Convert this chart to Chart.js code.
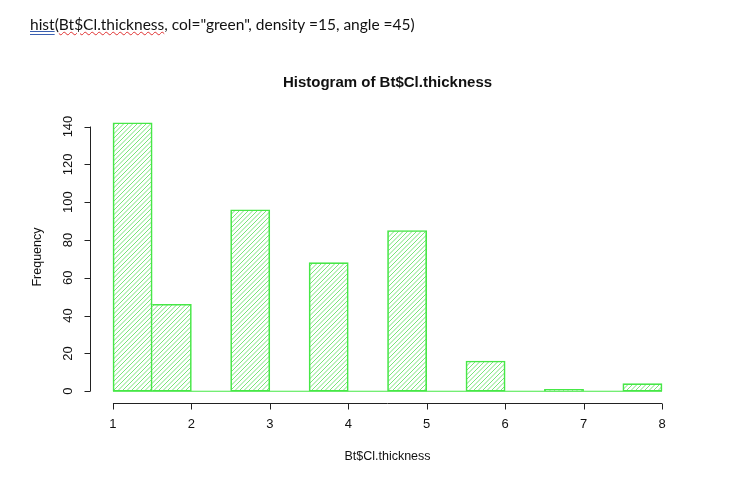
<!DOCTYPE html>
<html>
<head>
<meta charset="utf-8">
<script src="https://cdn.jsdelivr.net/npm/chart.js@4.4.1/dist/chart.umd.min.js"></script>
<style>
  body { margin: 0; background: #fff; }
  #wrap { position: relative; width: 756px; height: 496px; }
  #code {
    position: absolute; left: 30px; top: 15px;
    font-family: Lato, "Open Sans", sans-serif; font-size: 15.5px; color: #111;
    white-space: nowrap;
  }
  #code .fn { text-decoration: underline double #3a5fb0; }
  #code .sq { text-decoration: underline wavy #e03030; text-decoration-thickness: 1px; }
</style>
</head>
<body>
<div id="wrap">
  <div id="code"><span class="fn">hist</span>(<span class="sq">Bt$Cl.thickness</span>, col="green", density =15, angle =45)</div>
  <canvas id="histChart" width="756" height="496"></canvas>
</div>
<script>
// bin midpoints (width 0.5) and counts
const binMids = [1.25, 1.75, 2.25, 2.75, 3.25, 3.75, 4.25, 4.75, 5.25, 5.75, 6.25, 6.75, 7.25, 7.75];
const counts = [142, 46, 0, 96, 0, 68, 0, 85, 0, 16, 0, 1, 0, 4];
const xTicks = [1, 2, 3, 4, 5, 6, 7, 8];
const yTicks = [0, 20, 40, 60, 80, 100, 120, 140];
const mainTitle = 'Histogram of Bt$Cl.thickness';
const xTitle = 'Bt$Cl.thickness';
const yTitle = 'Frequency';

const lineGreen = 'rgb(70, 232, 70)';

function hatch() {
    const s = 9;
    const c = document.createElement('canvas');
    c.width = s; c.height = s;
    const g = c.getContext('2d');
    g.strokeStyle = 'rgba(80, 220, 80, 0.85)';
    g.lineWidth = 0.9;
    for (let k = -s; k <= s * 2; k += s / 2) {
        g.beginPath();
        g.moveTo(k - s, s);
        g.lineTo(k + s, -s);
        g.stroke();
    }
    return g.createPattern(c, 'repeat');
}

const axesPlugin = {
    id: 'rAxes',
    beforeDatasetsDraw(chart) {
        const ctx = chart.ctx;
        const x = chart.scales.x, y = chart.scales.y;
        ctx.save();
        ctx.strokeStyle = lineGreen;
        ctx.lineWidth = 1.2;
        ctx.beginPath();
        ctx.moveTo(x.getPixelForValue(1), y.getPixelForValue(0));
        ctx.lineTo(x.getPixelForValue(8), y.getPixelForValue(0));
        ctx.stroke();
        ctx.restore();
    },
    afterDraw(chart) {
        const ctx = chart.ctx;
        const x = chart.scales.x, y = chart.scales.y;
        const area = chart.chartArea;
        ctx.save();
        ctx.strokeStyle = '#222';
        ctx.lineWidth = 1;
        ctx.fillStyle = '#111';
        ctx.font = '13px "Liberation Sans", Arial, sans-serif';

        // x axis
        const ax = area.bottom + 1.5;
        ctx.beginPath();
        ctx.moveTo(x.getPixelForValue(xTicks[0]), ax);
        ctx.lineTo(x.getPixelForValue(xTicks[xTicks.length - 1]), ax);
        xTicks.forEach(v => {
            const px = Math.round(x.getPixelForValue(v)) + 0.5;
            ctx.moveTo(px, ax);
            ctx.lineTo(px, ax + 6);
        });
        ctx.stroke();
        ctx.textAlign = 'center';
        ctx.textBaseline = 'middle';
        xTicks.forEach(v => ctx.fillText(String(v), x.getPixelForValue(v), 424));
        ctx.font = '12.5px "Liberation Sans", Arial, sans-serif';
        ctx.fillText(xTitle, (area.left + area.right) / 2, 457);

        // y axis
        const ay = area.left - 0.5;
        ctx.beginPath();
        ctx.moveTo(ay, y.getPixelForValue(yTicks[0]));
        ctx.lineTo(ay, y.getPixelForValue(yTicks[yTicks.length - 1]));
        yTicks.forEach(v => {
            const py = Math.round(y.getPixelForValue(v)) + 0.5;
            ctx.moveTo(ay, py);
            ctx.lineTo(ay - 6, py);
        });
        ctx.stroke();
        ctx.font = '13px "Liberation Sans", Arial, sans-serif';
        yTicks.forEach(v => {
            ctx.save();
            ctx.translate(68, y.getPixelForValue(v));
            ctx.rotate(-Math.PI / 2);
            ctx.fillText(String(v), 0, 0);
            ctx.restore();
        });
        ctx.font = '12.5px "Liberation Sans", Arial, sans-serif';
        ctx.save();
        ctx.translate(38, (area.top + area.bottom) / 2);
        ctx.rotate(-Math.PI / 2);
        ctx.fillText(yTitle, 0, 0);
        ctx.restore();

        // main title
        ctx.font = 'bold 15px "Liberation Sans", Arial, sans-serif';
        ctx.fillText(mainTitle, (area.left + area.right) / 2, 83);
        ctx.restore();
    }
};

const ctx = document.getElementById('histChart').getContext('2d');
new Chart(ctx, {
    type: 'bar',
    data: {
        datasets: [{
            label: 'Frequency',
            data: binMids.map((m, i) => ({ x: m, y: counts[i] })),
            backgroundColor: hatch(),
            borderColor: lineGreen,
            borderWidth: 1,
            // neighbouring bars share one edge line
            borderSkipped: c => (c.dataIndex > 0 && counts[c.dataIndex - 1] > 0) ? 'left' : false,
            barPercentage: 1,
            categoryPercentage: 1
        }]
    },
    options: {
        responsive: false,
        animation: false,
        layout: { padding: { left: 91, right: 72, top: 112, bottom: 94 } },
        plugins: {
            legend: { display: false },
            tooltip: { enabled: false }
        },
        scales: {
            x: { type: 'linear', min: 0.72, max: 8.28, offset: false, display: false },
            y: { min: -5.68, max: 147.68, display: false }
        }
    },
    plugins: [axesPlugin]
});
</script>
</body>
</html>
